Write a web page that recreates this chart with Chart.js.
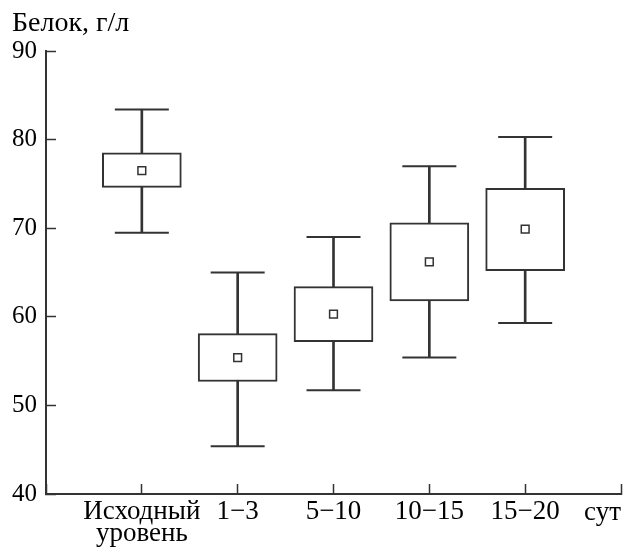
<!DOCTYPE html>
<html>
<head>
<meta charset="utf-8">
<script src="https://cdn.jsdelivr.net/npm/chart.js@4/dist/chart.umd.min.js"></script>
<style>
  body { margin: 0; background: #fff; }
  canvas { display: block; }
</style>
</head>
<body>
<canvas id="grafico" width="623" height="552"></canvas>
<script>
// categorie (0 e 6 vuote: origine e posizione di "сут")
const categories = ['', ['Исходный', 'уровень'], '1−3', '5−10', '10−15', '15−20', ''];
const yTicks = [40, 50, 60, 70, 80, 90];
const yTitle = 'Белок, г/л';
const xUnit = 'сут';

// valori
const minValues = [null, 69.5, 45.4, 51.7, 55.4, 59.3, null];
const q1Values = [null, 74.6, 52.7, 57.2, 61.8, 65.2, null];
const meanValues = [null, 76.5, 55.4, 60.3, 66.2, 69.9, null];
const q3Values = [null, 78.5, 58.1, 63.4, 70.6, 74.5, null];
const maxValues = [null, 83.4, 65.0, 69.0, 77.0, 80.3, null];

const ink = '#333';
const family = '"Liberation Serif", "Times New Roman", serif';

const boxes = q1Values.map((v, i) => v === null ? null : [v, q3Values[i]]);
const whiskers = minValues.map((v, i) => v === null ? null : [v, maxValues[i]]);

new Chart(document.getElementById('grafico'), {
    type: 'bar',
    data: {
        labels: categories,
        datasets: [
            {
                type: 'line',
                data: meanValues,
                showLine: false,
                pointStyle: 'rect',
                pointRadius: 5.5,
                pointBackgroundColor: '#fff',
                pointBorderColor: ink,
                pointBorderWidth: 1.5,
            },
            {
                data: boxes,
                grouped: false,
                barThickness: 79,
                backgroundColor: '#fff',
                borderColor: ink,
                borderWidth: 2,
                borderSkipped: false,
            },
            {
                data: whiskers,
                grouped: false,
                barThickness: 2,
                backgroundColor: ink,
                borderWidth: 0,
            },
            {
                type: 'line',
                data: maxValues,
                showLine: false,
                pointStyle: 'line',
                pointRadius: 27,
                pointBorderColor: ink,
                pointBorderWidth: 2,
            },
            {
                type: 'line',
                data: minValues,
                showLine: false,
                pointStyle: 'line',
                pointRadius: 27,
                pointBorderColor: ink,
                pointBorderWidth: 2,
            },
        ],
    },
    options: {
        responsive: false,
        animation: false,
        layout: { autoPadding: false, padding: { left: 12, right: 2, top: 0, bottom: 0 } },
        plugins: {
            legend: { display: false },
            tooltip: { enabled: false },
            title: {
                display: true,
                text: yTitle,
                align: 'start',
                color: '#000',
                font: { family: family, size: 28, weight: 'normal', lineHeight: '27px' },
                padding: { top: 10, bottom: 14 },
            },
        },
        scales: {
            x: {
                offset: false,
                border: { color: ink, width: 2 },
                grid: { offset: false, drawOnChartArea: false, tickLength: -10, tickColor: ink, tickWidth: 1.5 },
                ticks: {
                    autoSkip: false,
                    maxRotation: 0,
                    padding: 17,
                    color: '#000',
                    font: { family: family, size: 27, lineHeight: '22px' },
                },
                title: {
                    display: true,
                    text: xUnit,
                    align: 'end',
                    color: '#000',
                    font: { family: family, size: 27, lineHeight: '22px' },
                    padding: { top: 0, bottom: 28 },
                },
                afterFit: (scale) => {
                    scale.height = 58;
                    scale.paddingLeft = 0;
                    scale.paddingRight = 0;
                },
            },
            y: {
                min: 40,
                max: 90,
                afterBuildTicks: (scale) => { scale.ticks = yTicks.map((v) => ({ value: v })); },
                border: { color: ink, width: 2 },
                grid: { drawOnChartArea: false, tickLength: -10, tickColor: ink, tickWidth: 1.5 },
                ticks: {
                    padding: 19,
                    color: '#000',
                    font: { family: family, size: 25 },
                },
                afterFit: (scale) => { scale.width = 34; },
            },
        },
    },
});
</script>
</body>
</html>
